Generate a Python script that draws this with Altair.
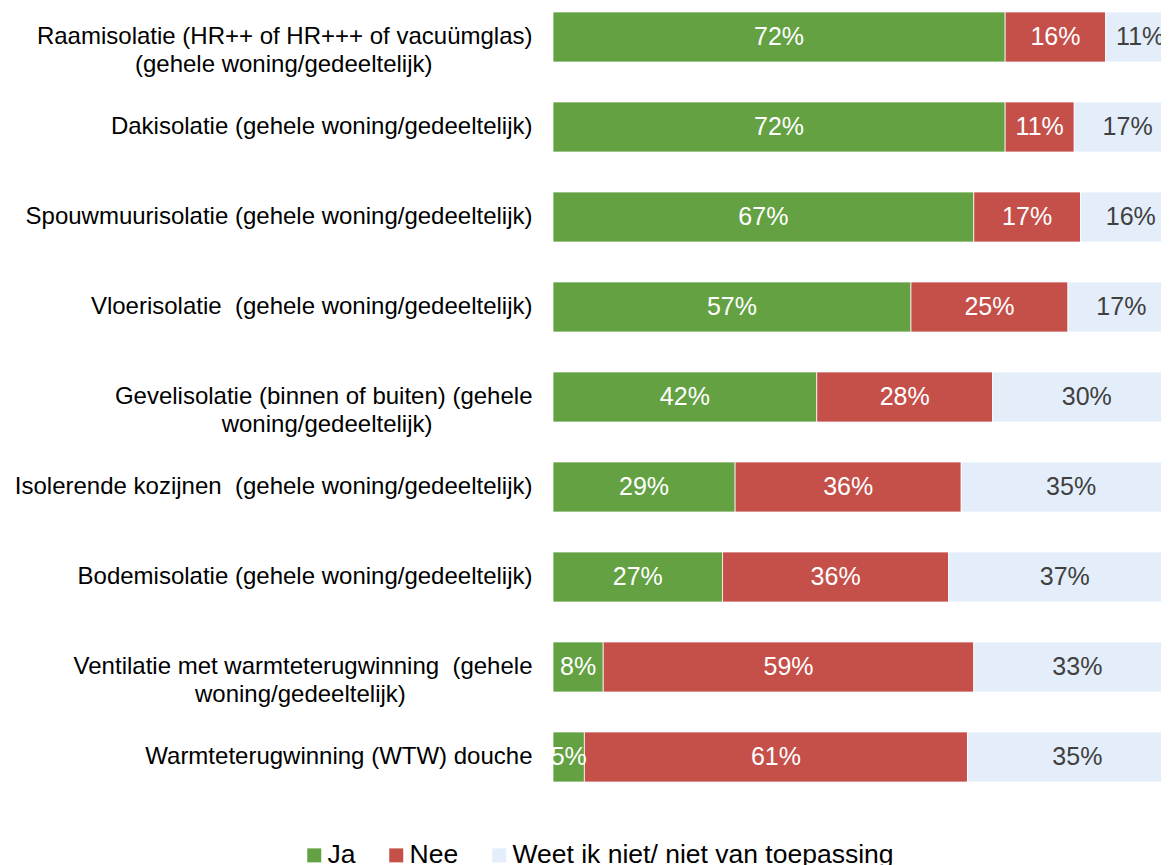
import altair as alt
import pandas as pd

NB = "\u00a0"
ZW = "\u200b"

# Category labels (line breaks marked with "|")
line1 = [
    "Raamisolatie (HR++ of HR+++ of vacuümglas)",
    "Dakisolatie (gehele woning/gedeeltelijk)",
    "Spouwmuurisolatie (gehele woning/gedeeltelijk)",
    "Vloerisolatie " + NB + "(gehele woning/gedeeltelijk)",
    "Gevelisolatie (binnen of buiten) (gehele",
    "Isolerende kozijnen " + NB + "(gehele woning/gedeeltelijk)",
    "Bodemisolatie (gehele woning/gedeeltelijk)",
    "Ventilatie met warmteterugwinning " + NB + "(gehele",
    "Warmteterugwinning (WTW) douche",
]
line2 = [
    "(gehele woning/gedeeltelijk)",
    "",
    "",
    "",
    "woning/gedeeltelijk)",
    "",
    "",
    "woning/gedeeltelijk)",
    "",
]

answers = ["Ja", "Nee", "Weet ik niet/ niet van toepassing"]
ja = [72, 72, 67, 57, 42, 29, 27, 8, 5]
nee = [16, 11, 17, 25, 28, 36, 36, 59, 61]
weet = [11, 17, 16, 17, 30, 35, 37, 33, 35]
colors = ["#63A142", "#C5504A", "#E4EEFB"]

# Arial / Liberation Sans advance widths (1/1000 em), used to centre 2nd lines
W = {" ": 278, NB: 278, "(": 333, ")": 333, "+": 584, "/": 278, "%": 889}
for c in "0123456789":
    W[c] = 556
upper = dict(A=667, B=667, C=722, D=722, E=667, F=611, G=778, H=722, I=278, J=500,
             K=667, L=556, M=833, N=722, O=778, P=667, Q=778, R=722, S=667, T=611,
             U=722, V=667, W=944, X=667, Y=667, Z=611)
lower = dict(a=556, b=556, c=500, d=556, e=556, f=278, g=556, h=556, i=222, j=222,
             k=500, l=222, m=833, n=556, o=556, p=556, q=556, r=333, s=500, t=278,
             u=556, v=500, w=722, x=500, y=500, z=500)
W.update(upper)
W.update(lower)
W["ü"] = 556


def tw(s):
    return sum(W.get(ch, 556) for ch in s)


cats = []
for a, b in zip(line1, line2):
    if b:
        pad = round((tw(a) - tw(b)) / 2 / 278)
        cats.append(a + "|" + b + NB * pad + ZW)
    else:
        cats.append(a)

rows = []
for i, c in enumerate(cats):
    for k, (ans, vals) in enumerate(zip(answers, [ja, nee, weet])):
        rows.append({"cat": c, "answer": ans, "value": vals[i], "ord": k})
df = pd.DataFrame(rows)

FONT = "Liberation Sans"
PLOT_W = 608
PX_PER_PCT = 6.28

base = alt.Chart(df).transform_stack(
    stack="value", groupby=["cat"], as_=["x0", "x1"], sort=[alt.SortField("ord")]
).transform_calculate(
    mid="(datum.x0 + datum.x1) / 2", label="datum.value + '%'"
)

yaxis = alt.Axis(
    labelExpr="split(datum.label, '|')",
    labelFont=FONT,
    labelFontSize=24,
    labelColor="#000000",
    labelLineHeight=28,
    labelPadding=21,
    labelLimit=700,
    ticks=False,
    domain=False,
    grid=False,
)
yscale = alt.Scale(paddingInner=0.4444, paddingOuter=0.0444)

xscale = alt.Scale(domain=[0, PLOT_W / PX_PER_PCT], nice=False, zero=True)

bars = base.mark_bar(stroke="white", strokeWidth=0.75, clip=True).encode(
    x=alt.X("x0:Q", scale=xscale, axis=None, title=None),
    x2="x1:Q",
    y=alt.Y("cat:N", sort=cats, title=None, scale=yscale, axis=yaxis),
    color=alt.Color(
        "answer:N",
        scale=alt.Scale(domain=answers, range=colors),
        sort=answers,
        legend=alt.Legend(
            title=None,
            orient="none",
            direction="horizontal",
            legendX=-252,
            legendY=834,
            symbolType="square",
            symbolSize=196,
            symbolStrokeWidth=0,
            symbolOpacity=1,
            labelFont=FONT,
            labelFontSize=26.5,
            labelColor="#000000",
            labelLimit=600,
            labelOffset=0,
            columnPadding=27,
        ),
    ),
)

texts = base.mark_text(
    font=FONT, fontSize=25, align="center", baseline="middle", clip=True
).encode(
    x=alt.X("mid:Q", scale=xscale, axis=None),
    y=alt.Y("cat:N", sort=cats, title=None, scale=yscale, axis=yaxis),
    text="label:N",
    color=alt.condition(
        alt.datum.answer == answers[2], alt.value("#404040"), alt.value("#FFFFFF")
    ),
)

chart = (
    alt.layer(bars, texts)
    .properties(
        width=PLOT_W,
        height=778,
        background="white",
        autosize=alt.AutoSizeParams(type="none"),
        padding={"left": 545, "top": 0, "right": 0, "bottom": 80},
    )
    .configure_view(strokeWidth=0, stroke="transparent")
)

chart.save("out.html", embed_options={"renderer": "svg", "actions": False})
